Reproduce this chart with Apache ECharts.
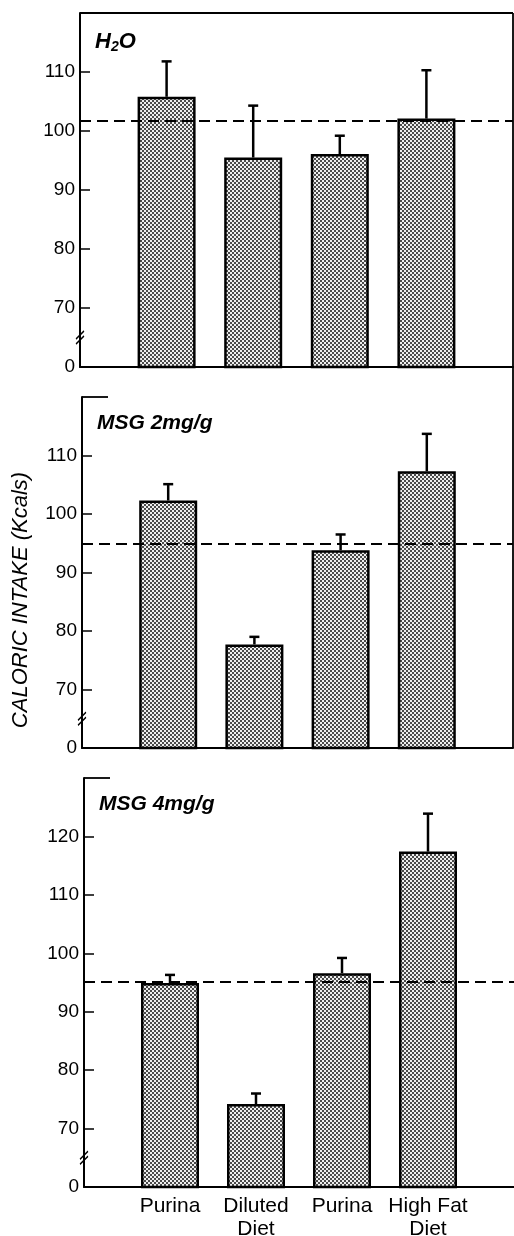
<!DOCTYPE html>
<html><head><meta charset="utf-8">
<script src="https://cdn.jsdelivr.net/npm/echarts@6/dist/echarts.min.js"></script>
<style>html,body{margin:0;padding:0;background:#fff}#c{width:514px;height:1236px}</style>
</head><body><div id="c"></div>
<script>
// ---- data ----
const categories = ['Purina', 'Diluted\nDiet', 'Purina', 'High Fat\nDiet'];
const h2oMeans = [105.8, 95.5, 96.1, 102.1];
const h2oSem = [6.0, 8.8, 3.1, 8.2];
const h2oReference = 101.7;
const msg2Means = [102.3, 77.7, 93.8, 107.3];
const msg2Sem = [2.8, 1.3, 2.7, 6.4];
const msg2Reference = 95.0;
const msg4Means = [94.9, 74.2, 96.6, 117.4];
const msg4Sem = [1.4, 1.8, 2.6, 6.5];
const msg4Reference = 95.1;
const yMin = 60;            // shown as "0" (broken axis)
const yMaxes = [120, 120, 130];
const yTickInterval = 10;
const axisBreakValue = 65;
const yAxisTitle = 'CALORIC INTAKE (Kcals)';
const panelTitles = ['{a|H}{b|2}{a|O}', 'MSG 2mg/g', 'MSG 4mg/g'];

// ---- build ----
const panels = [
  {means: h2oMeans, sem: h2oSem, ref: h2oReference},
  {means: msg2Means, sem: msg2Sem, ref: msg2Reference},
  {means: msg4Means, sem: msg4Sem, ref: msg4Reference}
];
const grids = [
  {left: 80, top: 13, width: 433, height: 354, outerBoundsMode: 'none', containLabel: false},
  {left: 82, top: 397, width: 431, height: 351, outerBoundsMode: 'none', containLabel: false},
  {left: 84, top: 778, width: 430, height: 409, outerBoundsMode: 'none', containLabel: false}
];
const axisCats = [''].concat(categories, ['']);

const tile = document.createElement('canvas');
tile.width = 4; tile.height = 4;
const tctx = tile.getContext('2d');
tctx.fillStyle = '#eeeeee'; tctx.fillRect(0, 0, 4, 4);
tctx.fillStyle = '#4a4a4a'; tctx.fillRect(0, 0, 2, 2); tctx.fillRect(2, 2, 2, 2);
const stipple = {image: tile, repeat: 'repeat'};

const labelFont = "'Liberation Sans', Arial, sans-serif";
const narrowFont = "'Liberation Sans Narrow', 'Liberation Sans', Arial, sans-serif";

function errRender(params, api) {
  const x = api.value(0), m = api.value(1), e = api.value(2);
  const b = api.coord([x, m]);
  const t = api.coord([x, m + e]);
  const st = {stroke: '#000', lineWidth: 2.5};
  return {type: 'group', children: [
    {type: 'line', shape: {x1: b[0], y1: b[1], x2: t[0], y2: t[1]}, style: st},
    {type: 'line', shape: {x1: t[0] - 5, y1: t[1], x2: t[0] + 5, y2: t[1]}, style: st}
  ]};
}

const xAxis = [], yAxis = [], series = [];
panels.forEach((p, i) => {
  xAxis.push({
    gridIndex: i, type: 'category', data: axisCats, boundaryGap: false,
    axisLine: {onZero: false, lineStyle: {color: '#000', width: 2}},
    axisTick: {show: false},
    axisLabel: {show: i === 2, interval: 0, color: '#000', fontSize: 21, lineHeight: 23,
                fontFamily: narrowFont, margin: 8},
    splitLine: {show: false}
  });
  const y = {
    gridIndex: i, type: 'value', min: yMin, max: yMaxes[i], interval: yTickInterval,
    axisLine: {show: true, lineStyle: {color: '#000', width: 2}},
    axisTick: {show: true, inside: true, length: 10, lineStyle: {color: '#000', width: 1.5}},
    axisLabel: {color: '#000', fontSize: 19, fontFamily: labelFont, margin: 5, showMaxLabel: false,
                formatter: v => (v === yMin ? '0' : String(v))},
    splitLine: {show: false}
  };
  if (i === 1) {
    y.name = yAxisTitle;
    y.nameLocation = 'middle';
    y.nameRotate = 90;
    y.nameGap = 50;
    y.nameTextStyle = {fontSize: 22, fontStyle: 'italic', color: '#000', fontFamily: labelFont,
                       padding: [0, 55, 0, 0]};
  }
  yAxis.push(y);
  series.push({
    type: 'bar', xAxisIndex: i, yAxisIndex: i, barWidth: 58, clip: true, silent: true,
    data: p.means.map((m, k) => [k + 1, m]),
    itemStyle: {color: stipple, borderColor: '#000', borderWidth: 2.5}
  });
  series.push({
    type: 'custom', xAxisIndex: i, yAxisIndex: i, silent: true, z: 4,
    encode: {x: 0, y: 1},
    data: p.means.map((m, k) => [k + 1, m, p.sem[k]]),
    renderItem: errRender,
    markLine: {silent: true, symbol: 'none', label: {show: false},
               lineStyle: {color: '#000', width: 1.8, type: [11, 6]},
               data: [{yAxis: p.ref}]},
    markPoint: {silent: true, symbol: 'path://M0,8 L7,0 M0,13 L7,5', symbolSize: [8, 13],
                itemStyle: {color: 'none', borderColor: '#000', borderWidth: 1.5},
                label: {show: false}, data: [{coord: [0, axisBreakValue]}]}
  });
});

const titleStyle = {color: '#000', fontSize: 21, fontStyle: 'italic', fontWeight: 'bold', fontFamily: labelFont};
const titleTops = [30, 413, 794];
const title = panelTitles.map((t, i) => ({
  text: t, left: grids[i].left + 15, top: titleTops[i], padding: 0,
  textStyle: Object.assign({}, titleStyle, {
    rich: {
      a: {color: '#000', fontSize: 22, fontStyle: 'italic', fontWeight: 'bold', fontFamily: labelFont, lineHeight: 24},
      b: {color: '#000', fontSize: 14, fontStyle: 'italic', fontWeight: 'bold', fontFamily: labelFont, verticalAlign: 'bottom', lineHeight: 24, padding: [12, 0, 0, 0]}
    }
  })
}));

const chart = echarts.init(document.getElementById('c'), null, {renderer: 'canvas'});
chart.setOption({animation: false, backgroundColor: '#fff', title, grid: grids, xAxis, yAxis, series});

// frame decorations (panel borders) located from the axes
const px = (g, x, y) => chart.convertToPixel({gridIndex: g}, [x, y]);
const last = axisCats.length - 1;
const ls = {stroke: '#000', lineWidth: 1.8};
const p0tl = px(0, 0, yMaxes[0]), p0tr = px(0, last, yMaxes[0]), p1br = px(1, last, yMin);
const p1tl = px(1, 0, yMaxes[1]), p2tl = px(2, 0, yMaxes[2]);
chart.setOption({graphic: [
  {type: 'line', shape: {x1: p0tl[0], y1: p0tl[1], x2: p0tr[0], y2: p0tr[1]}, style: ls},
  {type: 'line', shape: {x1: p0tr[0], y1: p0tr[1], x2: p1br[0], y2: p1br[1]}, style: ls},
  {type: 'line', shape: {x1: p1tl[0], y1: p1tl[1], x2: p1tl[0] + 26, y2: p1tl[1]}, style: ls},
  {type: 'line', shape: {x1: p2tl[0], y1: p2tl[1], x2: p2tl[0] + 26, y2: p2tl[1]}, style: ls}
]});
</script></body></html>
